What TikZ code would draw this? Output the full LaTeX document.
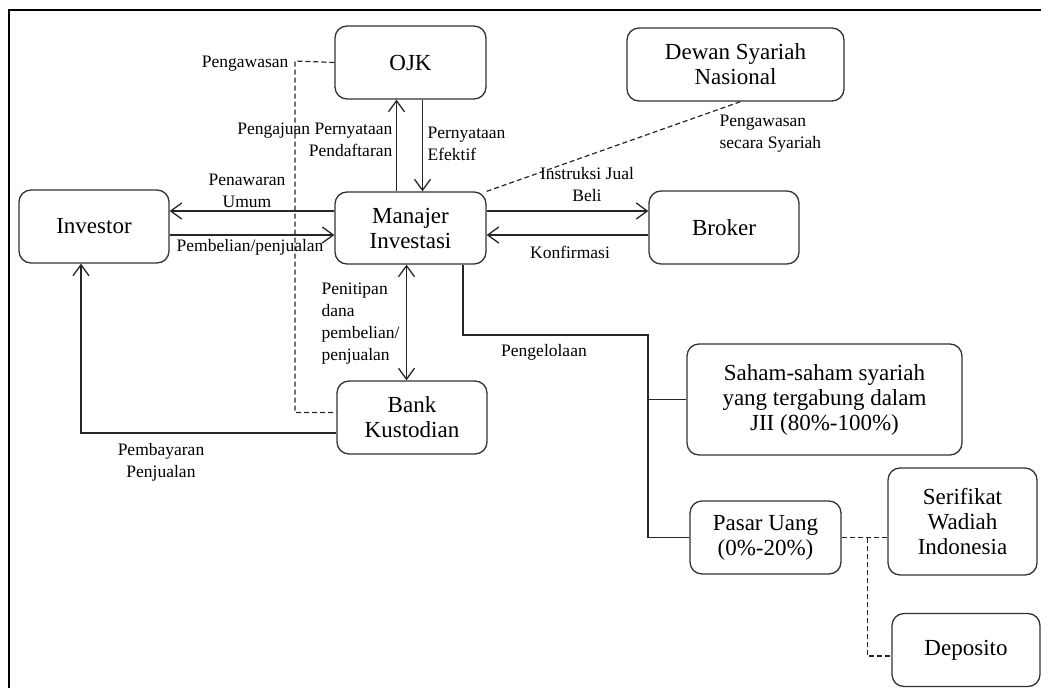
\documentclass[tikz,border=0pt]{standalone}
\usepackage{fontspec}
\setmainfont{Liberation Serif}
\usetikzlibrary{arrows.meta,positioning,calc}
\begin{document}
\begin{tikzpicture}[x=1pt, y=-1pt, line width=1.3pt, draw=black!85,
    kotak/.style={draw=black!80, rounded corners=12pt, align=center, inner sep=0pt, font=\fontsize{23}{25}\selectfont},
    ket/.style={align=center, inner sep=0pt, font=\fontsize{17.5}{22}\selectfont},
    panah/.style={-{Straight Barb[length=11pt,width=16pt]}},
    putus/.style={dash pattern=on 5pt off 3pt, line width=1.2pt}]
    \useasboundingbox (0,0) rectangle (1041,688);
    % bingkai luar
    \draw[line width=2pt, black] (9,688) -- (9,10) -- (1041,10);

    % kotak-kotak utama
    \node[kotak, minimum width=151, minimum height=73] (ojk) at (410.5,62.5) {OJK};
    \node[kotak, minimum width=150, minimum height=73] (inv) at (94,226.5) {Investor};
    \node[kotak, minimum width=151, minimum height=72] (mi) at (410.5,228) {Manajer\\Investasi};
    \node[kotak, minimum width=217, minimum height=73] (dsn) at (735.5,64.5) {Dewan Syariah\\Nasional};
    \node[kotak, minimum width=150, minimum height=73] (brk) at (724,227.5) {Broker};
    \node[kotak, minimum width=150, minimum height=73] (bk) at (412,417.5) {Bank\\Kustodian};
    \node[kotak, minimum width=275, minimum height=111] (saham) at (824.5,399.5) {Saham-saham syariah\\yang tergabung dalam\\JII (80\%-100\%)};
    \node[kotak, minimum width=151, minimum height=73] (pu) at (765.5,537.5) {Pasar Uang\\(0\%-20\%)};
    \node[kotak, minimum width=149, minimum height=107] (swi) at (962.5,521.5) {Serifikat\\Wadiah\\Indonesia};
    \node[kotak, minimum width=148, minimum height=73] (dep) at (966,650) {Deposito};

    % titik bantu
    \coordinate (pw) at (295,61);
    \coordinate (cab) at (648,335);
    \coordinate (cb) at ($(pu.east)+(26,0)$);

    % OJK <-> Manajer Investasi
    \draw[panah] ([xshift=-14pt]mi.north) -- ([xshift=-14pt]ojk.south);
    \draw[panah] ([xshift=12pt]ojk.south) -- ([xshift=12pt]mi.north);
    \draw[putus] (ojk.west) -- (pw) |- ([yshift=5pt]bk.west);

    % Investor <-> Manajer Investasi
    \draw[panah] ([yshift=17pt]mi.west) -- ([yshift=17pt]mi.west -| inv.east);
    \draw[panah] ([yshift=-7pt]mi.west -| inv.east) -- ([yshift=-7pt]mi.west);

    % Manajer Investasi <-> Broker
    \draw[panah] ([yshift=17pt]mi.east) -- ([yshift=17pt]mi.east -| brk.west);
    \draw[panah] ([yshift=-7pt]mi.east -| brk.west) -- ([yshift=-7pt]mi.east);
    \draw[putus] (mi.north east) -- ([xshift=5pt]dsn.south);

    % Bank Kustodian
    \draw[{Straight Barb[length=11pt,width=16pt]}-{Straight Barb[length=11pt,width=16pt]}] ([xshift=-4pt]mi.south) -- ([xshift=-4pt]mi.south |- bk.north);
    \draw[panah] ([yshift=-15.5pt]bk.west) -| ([xshift=-13pt]inv.south);

    % pengelolaan portofolio
    \draw ([xshift=52.5pt]mi.south) |- (cab) |- (pu.west);
    \draw (cab |- saham.west) -- (saham.west);
    \draw[putus] (pu.east) -- (pu.east -| swi.west);
    \draw[putus] (cb) |- ([yshift=-6pt]dep.west);

    % keterangan
    \node[ket, anchor=east] (lpw) at (289,64) {Pengawasan};
    \node[ket, anchor=east, align=right] (lpp) at (393,140) {Pengajuan Pernyataan\\Pendaftaran};
    \node[ket, anchor=west, align=left] (lpe) at (427,144) {Pernyataan\\Efektif};
    \node[ket] (lpu) at (247,191) {Penawaran\\Umum};
    \node[ket, anchor=west] (lpb) at (176,247) {Pembelian/penjualan};
    \node[ket] (lij) at (587,185) {Instruksi Jual\\Beli};
    \node[ket] (lkf) at (570,252) {Konfirmasi};
    \node[ket, anchor=west, align=left] (lps) at (719,134) {Pengawasan\\secara Syariah};
    \node[ket, anchor=west, align=left] (ldn) at (321,324) {Penitipan\\dana\\pembelian/\\penjualan};
    \node[ket] (lpg) at (544,352) {Pengelolaan};
    \node[ket] (lbp) at (161,462) {Pembayaran\\Penjualan};
\end{tikzpicture}
\end{document}
